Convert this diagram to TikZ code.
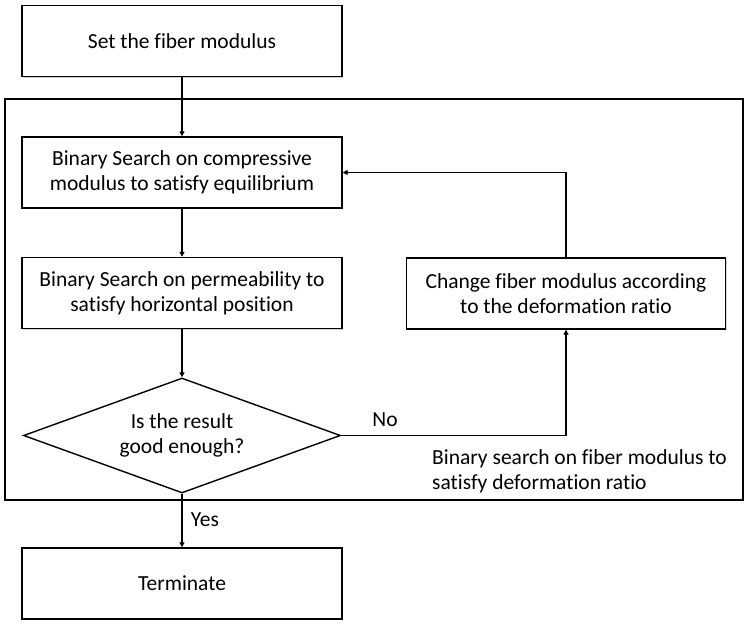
\documentclass[tikz,border=0pt]{standalone}
\usepackage{fontspec}
\setmainfont{Carlito}[Ligatures=NoCommon]
\usetikzlibrary{shapes.geometric,arrows.meta,shadows}
\begin{document}
\begin{tikzpicture}[x=1pt,y=-1pt,
  font=\fontsize{21.5}{25}\selectfont,
  box/.style={draw=black,line width=1.4pt,fill=white,minimum width=320pt,minimum height=71pt,align=center,inner sep=2pt,
    drop shadow={shadow xshift=1.2pt,shadow yshift=-1.2pt,opacity=0.35}},
  dia/.style={draw=black,line width=1.4pt,fill=white,shape=diamond,aspect=2.76,minimum width=317pt,minimum height=115pt,inner sep=0pt,align=center},
  conn/.style={line width=1.4pt,-{Triangle[length=5pt,width=5pt]}},
  lbl/.style={inner sep=0pt}]
\useasboundingbox (0,0) rectangle (750,631);
\draw[line width=1.4pt] (5,99) rectangle (743,500);
\node[box] (set) at (182,41) {Set the fiber modulus};
\node[box] (comp) at (182,172.5) {Binary Search on compressive\\modulus to satisfy equilibrium};
\node[box] (perm) at (182,293) {Binary Search on permeability to\\satisfy horizontal position};
\node[box,minimum width=319pt] (chg) at (566,293.5) {Change fiber modulus according\\to the deformation ratio};
\node[dia] (good) at (182,435.5) {Is the result\\good enough?};
\node[box] (term) at (182,583.5) {Terminate};
\node[lbl] (no) at (385,420) {No};
\node[lbl] (yes) at (205,520) {Yes};
\node[lbl,align=left,anchor=north west] (bsf) at (432,449) {Binary search on fiber modulus to\\satisfy deformation ratio};
\draw[conn] (set) -- (comp);
\draw[conn] (comp) -- (perm);
\draw[conn] (perm) -- (good);
\draw[conn] (good) -- (term);
\draw[conn] (good.east) -| (chg.south);
\draw[conn] (chg.north) |- (comp.east);
\end{tikzpicture}
\end{document}
